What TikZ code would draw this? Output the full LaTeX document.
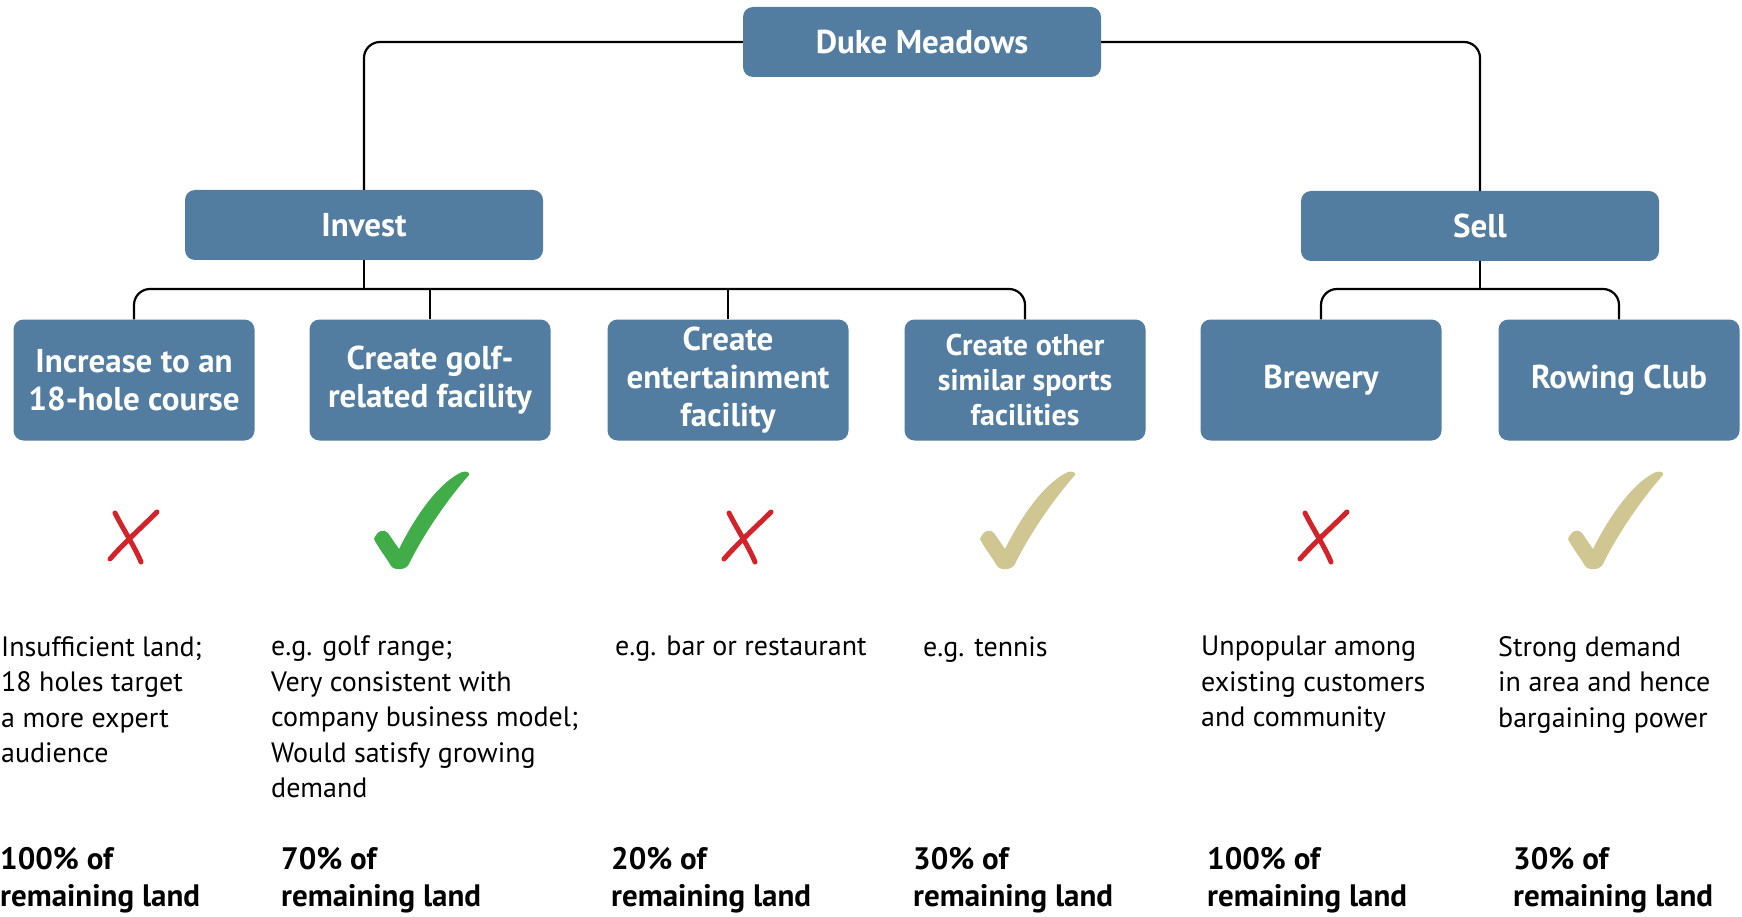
\documentclass[tikz,border=0pt]{standalone}
\usepackage{fontspec}
\setmainfont{PT Sans}
\usetikzlibrary{positioning,calc}
\definecolor{boxblue}{RGB}{82,125,160}
\definecolor{okgreen}{RGB}{64,173,73}
\definecolor{okkhaki}{RGB}{207,198,146}
\definecolor{nogored}{RGB}{210,35,42}
\tikzset{%
  hub/.style = {
    rounded corners = 10pt,
    fill = #1,
    text = white,
    inner sep = 2pt,
    align = center,
    minimum width = 358pt,
    minimum height = 70pt,
    font = \bfseries\fontsize{33}{38}\selectfont,
  },
  hub/.default = {boxblue},
  choice/.style = {
    hub,
    minimum width = 241pt,
    minimum height = 121pt,
  },
  link/.style = {
    line width = 2.2pt,
    rounded corners = 16pt,
  },
  note/.style = {
    anchor = north west,
    inner sep = 0pt,
    align = left,
    font = \fontsize{28}{35.5}\selectfont,
  },
  share/.style = {
    anchor = north west,
    inner sep = 0pt,
    align = left,
    font = \bfseries\fontsize{31}{37.5}\selectfont,
  },
  tick/.pic = {
    \fill (0,30) .. controls (3,38) and (10,41) .. (14,36) -- (25,20)
      .. controls (45,60) and (68,88) .. (88,97)
      .. controls (92,98) and (96,97) .. (95,94)
      .. controls (72,68) and (48,32) .. (35,5)
      .. controls (32,-1) and (21,-2) .. (17,3)
      .. controls (12,12) and (5,20) .. (0,30) -- cycle;
  },
  cross/.pic = {
    \draw[line width=5pt, line cap=round]
      (7,51) .. controls (15,35) and (28,15) .. (33,2);
    \draw[line width=5pt, line cap=round]
      (49,52) .. controls (35,38) and (15,20) .. (2,5);
  },
}

\begin{document}
\begin{tikzpicture}[x=1pt, y=1pt]
\useasboundingbox (0,0) rectangle (1742,-917);

% tree
\node(duke)   [hub] at (922,-42)  {Duke Meadows};
\node(invest) [hub] at (364,-225) {Invest};
\node(sell)   [hub] at (1480,-226) {Sell};
\node(opt1) [choice] at (134,-380)  {Increase to an\\18-hole course};
\node(opt2) [choice] at (430,-380)  {Create golf-\\related facility};
\node(opt3) [choice] at (728,-380)  {Create\\entertainment\\facility};
\node(opt4) [choice, font=\bfseries\fontsize{30}{35}\selectfont] at (1025,-380) {Create other\\similar sports\\facilities};
\node(opt5) [choice] at (1321,-380) {Brewery};
\node(opt6) [choice] at (1619,-380) {Rowing Club};
\coordinate (ibus) at (0,-289);

\draw[link] (duke.west) -| (invest.north);
\draw[link] (duke.east) -| (sell.north);
\draw[link] (opt1.north) |- (ibus -| opt4.north) -- (opt4.north);
\draw[link] (opt5.north) |- (ibus -| opt6.north) -- (opt6.north);
\draw[link] (invest.south) -- (invest |- ibus);
\draw[link] (sell.south) -- (sell |- ibus);
\draw[link] (opt2.north) -- (opt2 |- ibus);
\draw[link] (opt3.north) -- (opt3 |- ibus);

% verdicts
\pic(mark1) [draw=nogored] at (108,-564)  {cross};
\pic(mark2) [fill=okgreen] at (374,-569)  {tick};
\pic(mark3) [draw=nogored] at (722,-564)  {cross};
\pic(mark4) [fill=okkhaki] at (980,-569)  {tick};
\pic(mark5) [draw=nogored] at (1298,-564) {cross};
\pic(mark6) [fill=okkhaki] at (1568,-569) {tick};

% reasons
\node(why1) [note] at (1,-636)    {Insufficient land;\\18 holes target\\a more expert\\audience};
\node(why2) [note] at (271,-636)  {e.g. golf range;\\Very consistent with\\company business model;\\Would satisfy growing\\demand};
\node(why3) [note] at (615,-636)  {e.g. bar or restaurant};
\node(why4) [note] at (923,-636)  {e.g. tennis};
\node(why5) [note] at (1201,-636) {Unpopular among\\existing customers\\and community};
\node(why6) [note] at (1498,-636) {Strong demand\\in area and hence\\bargaining power};

% land shares
\node(land1) [share] at (0,-847)    {100\% of\\remaining land};
\node(land2) [share] at (281,-847)  {70\% of\\remaining land};
\node(land3) [share] at (611,-847)  {20\% of\\remaining land};
\node(land4) [share] at (913,-847)  {30\% of\\remaining land};
\node(land5) [share] at (1207,-847) {100\% of\\remaining land};
\node(land6) [share] at (1513,-847) {30\% of\\remaining land};
\end{tikzpicture}
\end{document}
